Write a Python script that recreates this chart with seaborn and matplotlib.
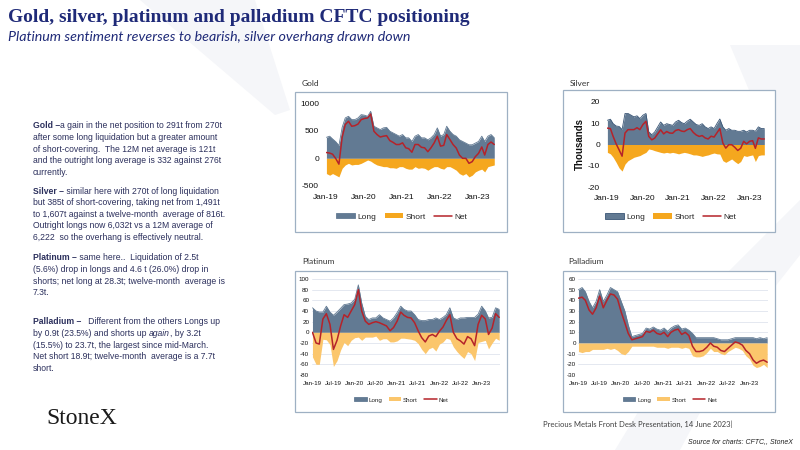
import numpy as np
import pandas as pd
import matplotlib
matplotlib.use("Agg")
import matplotlib.pyplot as plt
import matplotlib.dates as mdates
from matplotlib.patches import Rectangle, Patch
from matplotlib.lines import Line2D
import seaborn as sns

# ---------------- data (monthly readings, Jan-2019 .. Jun-2023) ----------------
dates = pd.date_range("2019-01-01", periods=54, freq="MS") + pd.Timedelta(days=4)

gold_long = [380, 400, 350, 300, 230, 560, 730, 760, 700, 700,
             730, 790, 780, 760, 850, 580, 550, 520, 550, 560,
             490, 460, 430, 400, 430, 370, 370, 305, 400, 430,
             370, 370, 335, 370, 430, 550, 400, 430, 580, 490,
             430, 400, 335, 305, 275, 245, 245, 275, 305, 400,
             305, 400, 430, 370]
gold_short = [-275, -305, -275, -305, -335, -180, -120, -90, -120, -110,
              -110, -90, -60, -30, -50, -90, -120, -135, -150, -150,
              -170, -170, -180, -150, -150, -180, -195, -195, -150, -180,
              -170, -180, -215, -180, -150, -150, -180, -195, -150, -150,
              -180, -215, -275, -305, -275, -335, -305, -245, -215, -195,
              -245, -150, -135, -120]
gold_net = [105, 95, 75, -5, -105, 380, 610, 670, 580, 590,
            620, 700, 720, 730, 800, 490, 430, 385, 400, 410,
            320, 290, 250, 250, 280, 190, 175, 110, 250, 250,
            200, 190, 120, 190, 280, 400, 220, 235, 430, 340,
            250, 185, 60, 0, 0, -90, -60, 30, 90, 205,
            60, 250, 295, 250]

silver_long = [11.4, 11.9, 9.8, 8.7, 8.5, 7.0, 14.6, 14.6, 13.8, 13.0,
               13.5, 12.2, 13.8, 14.6, 5.9, 4.6, 5.9, 8.3, 10.6, 9.0,
               9.8, 9.4, 9.0, 10.6, 11.4, 10.3, 9.8, 11.0, 11.9, 10.6,
               9.4, 9.0, 9.8, 8.3, 7.5, 8.3, 7.5, 10.0, 12.0, 8.3,
               6.7, 7.5, 6.7, 6.7, 6.2, 6.2, 6.7, 5.9, 6.7, 6.7,
               6.2, 8.3, 7.5, 7.5]
silver_short = [-3.7, -4.4, -6.0, -8.4, -11.0, -12.5, -9.2, -7.6, -6.8, -6.0,
                -5.6, -5.2, -4.4, -3.7, -2.1, -2.4, -2.9, -3.3, -3.7, -4.0,
                -3.7, -4.0, -3.7, -4.0, -4.4, -4.0, -3.7, -4.0, -4.4, -4.9,
                -4.9, -5.2, -5.6, -5.2, -4.9, -4.4, -4.0, -4.4, -4.5, -7.6,
                -8.4, -7.6, -6.8, -8.0, -9.0, -8.0, -5.2, -5.6, -5.2, -4.9,
                -8.0, -5.2, -4.9, -4.9]
silver_net = [7.7, 7.5, 3.8, 0.3, -2.5, -5.5, 5.4, 7.0, 7.0, 7.0,
              7.9, 7.0, 9.4, 10.9, 3.8, 2.2, 3.0, 5.0, 6.9, 5.0,
              6.1, 5.4, 5.3, 6.6, 7.0, 6.3, 6.1, 7.0, 7.5, 5.7,
              4.5, 3.8, 4.2, 3.1, 2.6, 3.9, 3.5, 5.6, 7.5, 0.7,
              -1.7, -0.1, -0.1, -1.3, -2.8, -1.8, 1.5, 0.3, 1.5, 1.8,
              -1.8, 3.1, 2.6, 2.6]

plat_long = [46, 40, 38, 38, 49, 38, 32, 38, 45, 52,
             53, 55, 62, 89, 55, 30, 24, 27, 27, 33,
             27, 24, 21, 27, 37, 49, 43, 40, 40, 33,
             24, 22, 22, 24, 24, 27, 24, 28, 33, 46,
             27, 24, 27, 27, 28, 28, 28, 34, 49, 40,
             27, 28, 46, 43]
plat_short = [-46, -60, -60, -13, -14, -23, -64, -53, -33, -19,
              -25, -15, -10, -9, -15, -9, -9, -9, -7, -15,
              -12, -12, -18, -18, -16, -11, -11, -12, -13, -15,
              -21, -32, -40, -31, -28, -35, -22, -18, -11, -13,
              -27, -36, -43, -49, -36, -40, -53, -19, -17, -15,
              -31, -20, -11, -15]
plat_net = [0, -20, -22, 25, 35, 15, -32, -15, 12, 33,
            28, 40, 52, 80, 40, 21, 15, 18, 20, 18,
            15, 12, 3, 9, 21, 38, 32, 28, 27, 18,
            3, -10, -18, -7, -4, -8, 2, 10, 22, 33,
            0, -12, -16, -22, -8, -12, -25, 15, 32, 25,
            -4, 8, 35, 28]

pall_long = [50, 52, 48, 39, 33, 39, 50, 39, 45, 52,
             50, 48, 39, 30, 17, 6, 7, 8, 9, 14,
             13, 15, 13, 12, 14, 11, 14, 16, 17, 13,
             14, 12, 9, 5, 5, 5, 5, 5, 5, 4,
             3, 3, 3, 4, 5, 5, 5, 5, 5, 5,
             4, 5, 4, 5]
pall_short = [-8, -9, -8, -8, -6, -6, -6, -6, -5, -6,
              -5, -7, -10, -11, -8, -3, -3, -3, -3, -3,
              -3, -3, -4, -4, -4, -5, -4, -4, -4, -5,
              -4, -5, -12, -13, -13, -12, -9, -5, -8, -8,
              -10, -11, -8, -6, -4, -5, -7, -12, -15, -21,
              -23, -22, -20, -23]
pall_net = [42, 43, 40, 31, 27, 33, 44, 33, 40, 46,
            45, 41, 29, 19, 9, 3, 4, 5, 6, 11,
            10, 12, 9, 8, 10, 6, 10, 12, 13, 8,
            10, 7, -3, -8, -8, -7, -4, 0, -3, -4,
            -7, -8, -5, -2, 1, 0, -2, -7, -10, -16,
            -19, -17, -16, -18]

legend_labels = ["Long", "Short", "Net"]

# ---------------- style ----------------
sns.set_theme(style="white")
plt.rcParams["font.family"] = ["Liberation Sans", "DejaVu Sans"]
plt.rcParams["axes.unicode_minus"] = False

NAVY = "#1f2a78"
BODY = "#2b2f5c"
LONG_C = "#627a93"
SHORT_DARK = "#f5a71e"
SHORT_LIGHT = "#fbc66c"
NET_C = "#b5232a"
FRAME_C = "#9eb0c3"

W, H = 800, 450
fig = plt.figure(figsize=(8, 4.5), dpi=100)
fig.patch.set_facecolor("white")


def fx(px):
    return px / W


def fy(py):
    return 1 - py / H


bg = fig.add_axes([0, 0, 1, 1], zorder=0)
bg.set_xlim(0, W)
bg.set_ylim(H, 0)
bg.axis("off")

# very faint watermark shapes of the slide background
for poly in [
    [(140, 0), (255, 0), (290, 110), (275, 115)],
    [(730, 45), (800, 45), (800, 140), (770, 140)],
    [(615, 450), (700, 310), (755, 310), (680, 450)],
    [(700, 300), (800, 200), (800, 255), (745, 325)],
]:
    bg.add_patch(plt.Polygon(poly, closed=True, facecolor="#f5f6f9", edgecolor="none", zorder=0))

# ---------------- titles ----------------
bg.text(8, 17, "Gold, silver, platinum and palladium CFTC positioning",
        family=["Liberation Serif", "DejaVu Serif"], weight="bold", fontsize=14.0,
        color=NAVY, va="center", ha="left")
bg.text(8, 37, "Platinum sentiment reverses to bearish, silver overhang drawn down",
        family=["Lato", "DejaVu Sans"], style="italic", fontsize=10.3,
        color=NAVY, va="center", ha="left")

# ---------------- body text ----------------
BFS = 6.2


def line(x, y, parts):
    """parts: list of (text, weight, style)"""
    prev = None
    for txt, wt, st in parts:
        if prev is None:
            prev = bg.text(x, y, txt, fontsize=BFS, weight=wt, style=st,
                           color=BODY, va="center", ha="left")
        else:
            prev = bg.annotate(txt, xy=(1, 0), xycoords=prev, fontsize=BFS,
                               weight=wt, style=st, color=BODY, va="bottom", ha="left")


R, B = "normal", "bold"
X0 = 33
gold_lines = [
    [("Gold –", B, "normal"), ("a gain in the net position to 291t from 270t", R, "normal")],
    [("after some long liquidation but a greater amount", R, "normal")],
    [("of short-covering.  The 12M net average is 121t", R, "normal")],
    [("and the outright long average is 332 against 276t", R, "normal")],
    [("currently.", R, "normal")],
]
silver_lines = [
    [("Silver –", B, "normal"), (" similar here with 270t of long liquidation", R, "normal")],
    [("but 385t of short-covering, taking net from 1,491t", R, "normal")],
    [("to 1,607t against a twelve-month  average of 816t.", R, "normal")],
    [("Outright longs now 6,032t vs a 12M average of", R, "normal")],
    [("6,222  so the overhang is effectively neutral.", R, "normal")],
]
plat_lines = [
    [("Platinum –", B, "normal"), (" same here..  Liquidation of 2.5t", R, "normal")],
    [("(5.6%) drop in longs and 4.6 t (26.0%) drop in", R, "normal")],
    [("shorts; net long at 28.3t; twelve-month  average is", R, "normal")],
    [("7.3t.", R, "normal")],
]
pall_lines = [
    [("Palladium –", B, "normal"), ("   Different from the others Longs up", R, "normal")],
    [("by 0.9t (23.5%) and shorts up ", R, "normal"), ("again", R, "italic"), (", by 3.2t", R, "normal")],
    [("(15.5%) to 23.7t, the largest since mid-March.", R, "normal")],
    [("Net short 18.9t; twelve-month  average is a 7.7t", R, "normal")],
    [("short.", R, "normal")],
]
for block, y0 in [(gold_lines, 126), (silver_lines, 191), (plat_lines, 258), (pall_lines, 322)]:
    for k, parts in enumerate(block):
        line(X0, y0 + k * 11.6, parts)

# logo
bg.text(46, 418, "StoneX", family=["Liberation Serif", "DejaVu Serif"], fontsize=17,
        color="#1a1a1a", va="center", ha="left")

# footer
bg.text(543, 424, "Precious Metals Front Desk Presentation, 14 June 2023|",
        family=["Lato", "DejaVu Sans"], fontsize=5.5, color="#404040", va="center", ha="left")
bg.text(793, 442, "Source for charts: CFTC,, StoneX", fontsize=5, style="italic",
        color="#222222", va="center", ha="right")


# ---------------- panels ----------------
def panel(frame, title, title_xy, plot_box, long_v, short_v, net_v, ylim, yticks,
          xticks, light, ylabel=None, ytick_pad=4, xtick_pad=6, tick_fs=6,
          leg_anchor=(0.5, -0.37), leg_fs=6, leg_hl=2.2):
    x0, y0, x1, y1 = frame
    bg.add_patch(Rectangle((x0, y0), x1 - x0, y1 - y0, facecolor="white",
                           edgecolor=FRAME_C, lw=0.9, zorder=1))
    bg.text(title_xy[0], title_xy[1], title, family=["Lato", "DejaVu Sans"],
            fontsize=6, color="#333333", va="center", ha="left", zorder=2)
    px0, py_top, px1, py_bot = plot_box
    ax = fig.add_axes([fx(px0), fy(py_bot), (px1 - px0) / W, (py_bot - py_top) / H], zorder=2)
    ax.patch.set_alpha(0)
    short_c = SHORT_LIGHT if light else SHORT_DARK
    if light:
        for yv in yticks:
            ax.axhline(yv, color="#dfe4ee", lw=0.6, zorder=0)
    edge = "#3a5676" if title == "Silver" else LONG_C
    ax.fill_between(dates, 0, long_v, color=LONG_C, lw=0, zorder=1)
    ax.plot(dates, long_v, color=edge, lw=0.6, zorder=1)
    ax.fill_between(dates, 0, short_v, color=short_c, lw=0, zorder=1)
    df = pd.DataFrame({"date": dates, "net": net_v})
    sns.lineplot(data=df, x="date", y="net", ax=ax, color=NET_C, lw=1.1, zorder=3)
    ax.set_xlim(pd.Timestamp("2019-01-01"), pd.Timestamp("2023-06-12"))
    ax.set_ylim(*ylim)
    ax.set_yticks(yticks)
    ax.set_xticks(pd.to_datetime(xticks))
    ax.xaxis.set_major_formatter(mdates.DateFormatter("%b-%y"))
    ax.tick_params(axis="both", length=0, labelsize=tick_fs, colors="#111111")
    ax.tick_params(axis="y", pad=ytick_pad)
    ax.tick_params(axis="x", pad=xtick_pad)
    for s in ax.spines.values():
        s.set_visible(False)
    ax.set_xlabel("")
    if ylabel:
        ax.set_ylabel(ylabel, fontsize=7, weight="bold", labelpad=2, color="#111111")
    else:
        ax.set_ylabel("")
    handles = [Patch(facecolor=LONG_C, edgecolor=edge, lw=0.6),
               Patch(facecolor=short_c, edgecolor="none"),
               Line2D([0], [0], color=NET_C, lw=1.1)]
    ax.legend(handles, legend_labels, loc="center", bbox_to_anchor=leg_anchor,
              ncol=3, frameon=False, fontsize=leg_fs, handlelength=leg_hl,
              handleheight=0.6, handletextpad=0.3, columnspacing=1.0)
    return ax


yearly = ["2019-01-01", "2020-01-01", "2021-01-01", "2022-01-01", "2023-01-01"]
half = ["2019-01-01", "2019-07-01", "2020-01-01", "2020-07-01", "2021-01-01",
        "2021-07-01", "2022-01-01", "2022-07-01", "2023-01-01"]

panel((295, 92, 507, 232), "Gold", (302, 84), (326, 103, 495, 186),
      gold_long, gold_short, gold_net, (-500, 1000), [-500, 0, 500, 1000],
      yearly, False, ytick_pad=5, xtick_pad=6, leg_anchor=(0.45, -0.37))
panel((563, 90, 775, 232), "Silver", (570, 83), (607, 102, 765, 187),
      silver_long, silver_short, silver_net, (-20, 20), [-20, -10, 0, 10, 20],
      yearly, False, ylabel="Thousands", ytick_pad=5, xtick_pad=6,
      leg_anchor=(0.405, -0.355))
panel((295, 271, 507, 412), "Platinum", (302, 262), (312, 279, 500, 375),
      plat_long, plat_short, plat_net, (-80, 100), list(range(-80, 101, 20)),
      half, True, ytick_pad=2, xtick_pad=4, tick_fs=4.5,
      leg_anchor=(0.475, -0.26), leg_fs=4.5, leg_hl=2.0)
panel((563, 271, 775, 412), "Palladium", (568, 262), (578, 279, 768, 375),
      pall_long, pall_short, pall_net, (-30, 60), list(range(-30, 61, 10)),
      half, True, ytick_pad=1.5, xtick_pad=4, tick_fs=4.5,
      leg_anchor=(0.484, -0.26), leg_fs=4.5, leg_hl=2.0)

fig.savefig("out.png", dpi=100)
